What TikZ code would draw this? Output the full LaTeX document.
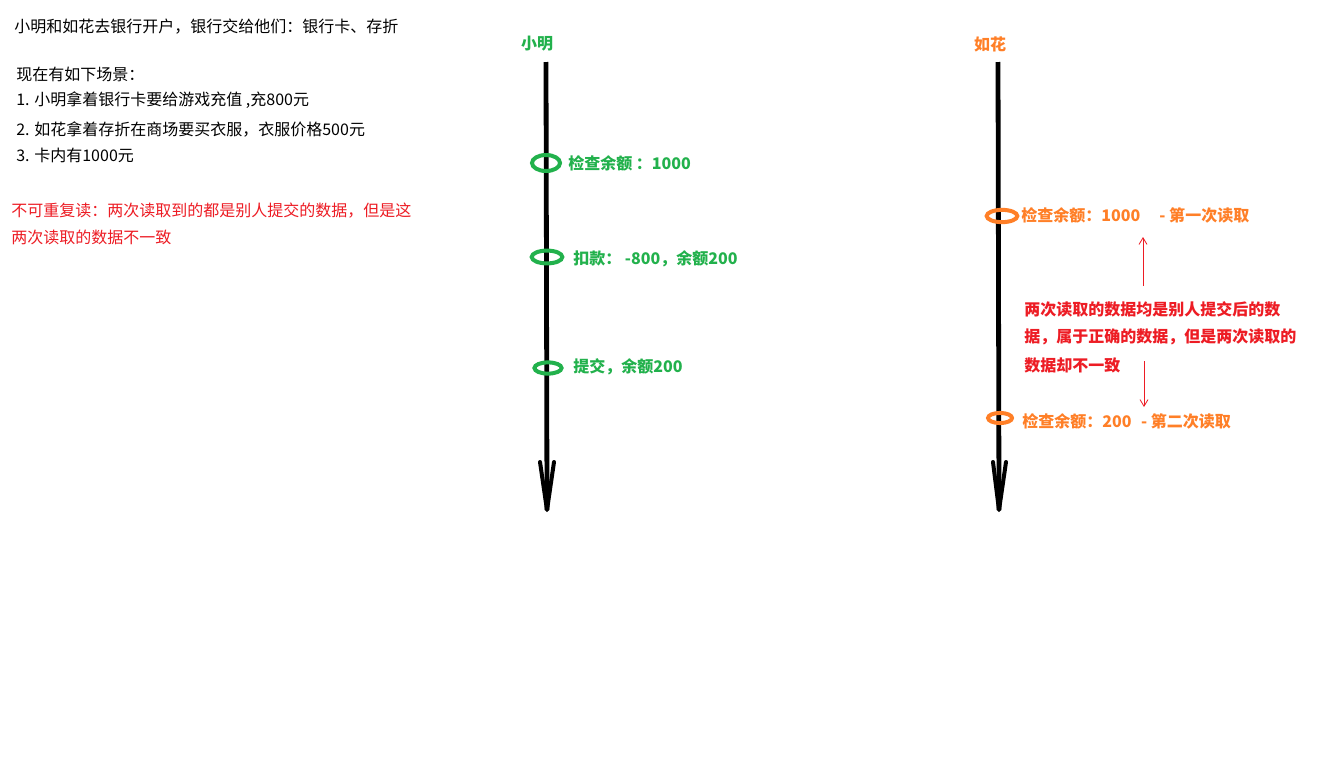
\documentclass[tikz,border=0pt]{standalone}
\usepackage{fontspec}
\setmainfont{Noto Sans CJK SC}
\usetikzlibrary{arrows.meta}
\definecolor{pgreen}{RGB}{34,177,76}
\definecolor{porange}{RGB}{255,127,39}
\definecolor{pred}{RGB}{237,28,36}
\tikzset{
  txt/.style={anchor=west, inner sep=0pt, font=\fontsize{12}{14}\selectfont},
  gtxt/.style={txt, text=pgreen, font=\fontsize{12}{14}\selectfont\bfseries},
  otxt/.style={txt, text=porange, font=\fontsize{12}{14}\selectfont\bfseries},
  rtxt/.style={txt, text=pred},
  rbold/.style={txt, text=pred, font=\fontsize{12}{14}\selectfont\bfseries},
  timeline/.style={line width=3.6pt, black},
  tip/.style={line width=3pt, black, line cap=round, line join=round},
  gring/.style={draw=pgreen, line width=3pt},
  oring/.style={draw=porange, line width=3pt},
  rarrow/.style={draw=pred, line width=0.6pt, -{Straight Barb[length=5pt,width=6pt]}}
}
\begin{document}
\begin{tikzpicture}[x=0.75pt,y=-0.75pt]
\useasboundingbox[fill=white] (0,0) rectangle (1341,782);
% left text
\node[txt] (t1) at (14,27) {小明和如花去银行开户，银行交给他们：银行卡、存折};
\node[txt] (t2) at (16,74) {现在有如下场景：};
\node[txt] (t3) at (16,100) {1. 小明拿着银行卡要给游戏充值 ,充800元};
\node[txt] (t4) at (16,129) {2. 如花拿着存折在商场要买衣服，衣服价格500元};
\node[txt] (t5) at (16,155) {3. 卡内有1000元};
\node[rtxt] (r1) at (11,211) {不可重复读：两次读取到的都是别人提交的数据，但是这};
\node[rtxt] (r2) at (11,237) {两次读取的数据不一致};
% left timeline
\node[gtxt, anchor=center] (xm) at (537,44) {小明};
\coordinate (Ltop) at (546,62);
\coordinate (Lbot) at (547,510);
\coordinate (Lwl) at (540,462);
\coordinate (Lwr) at (554,462);
\draw[timeline] (Ltop) -- (Lbot);
\draw[tip] (Lwl) -- (Lbot) -- (Lwr);
\draw[gring] (546,163) ellipse [x radius=10.5pt, y radius=6pt];
\draw[gring] (547,257) ellipse [x radius=11.5pt, y radius=4.8pt];
\draw[gring] (548,368) ellipse [x radius=10.2pt, y radius=4.2pt];
\node[gtxt] (g1) at (568,163) {检查余额 ：1000};
\node[gtxt] (g2) at (573,259) {扣款： -800，余额200};
\node[gtxt] (g3) at (573,367) {提交，余额200};
% right timeline
\node[otxt, anchor=center] (rh) at (990,44) {如花};
\coordinate (Rtop) at (998,62);
\coordinate (Rbot) at (999,510);
\coordinate (Rwl) at (993,462);
\coordinate (Rwr) at (1006,462);
\draw[timeline] (Rtop) -- (Rbot);
\draw[tip] (Rwl) -- (Rbot) -- (Rwr);
\draw[oring] (1002,216) ellipse [x radius=11.5pt, y radius=4.6pt];
\draw[oring] (1000,418) ellipse [x radius=9pt, y radius=3.8pt];
\node[otxt] (o1) at (1021,215) {检查余额：1000\hspace{1.2em}- 第一次读取};
\node[otxt] (o2) at (1022,421) {检查余额：200\hspace{0.6em}- 第二次读取};
% red explanation
\node[rbold] (e1) at (1024,309) {两次读取的数据均是别人提交后的数};
\node[rbold] (e2) at (1024,337) {据，属于正确的数据，但是两次读取的};
\node[rbold] (e3) at (1024,365) {数据却不一致};
\coordinate (upS) at (1143,286);
\coordinate (upE) at (1143,237);
\coordinate (dnS) at (1144,361);
\coordinate (dnE) at (1144,407);
\draw[rarrow] (upS) -- (upE);
\draw[rarrow] (dnS) -- (dnE);
\end{tikzpicture}
\end{document}
